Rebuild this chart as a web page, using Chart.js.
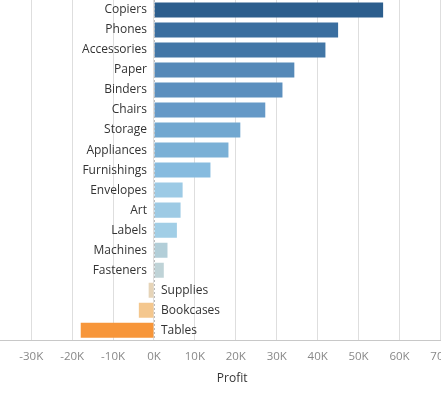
<!DOCTYPE html>
<html>
<head>
<meta charset="utf-8">
<script src="https://cdn.jsdelivr.net/npm/chart.js@4.4.1/dist/chart.umd.min.js"></script>
<style>
  html, body { margin: 0; padding: 0; background: #fff; overflow: hidden; }
  #wrap { position: absolute; left: 0; top: 0; width: 460px; height: 394px; }
</style>
</head>
<body>
<div id="wrap"><canvas id="chart"></canvas></div>
<script>
const categories = [
  "Copiers", "Phones", "Accessories", "Paper", "Binders", "Chairs", "Storage",
  "Appliances", "Furnishings", "Envelopes", "Art", "Labels", "Machines",
  "Fasteners", "Supplies", "Bookcases", "Tables"
]
const profit = [
  56000, 45000, 41900, 34300, 31400, 27200, 21100,
  18200, 13800, 7000, 6500, 5600, 3300,
  2400, -1300, -3700, -17900
]
const barColors = [
  "#2c5e8d", "#3a6e9f", "#4276a6", "#5589b8", "#5b8fbe", "#6599c7", "#71a7d0",
  "#7ab0d6", "#86bbdf", "#9ccae5", "#9dcae4", "#a1cee6", "#b2ced8",
  "#bfd3d7", "#e6d4b8", "#f4c78e", "#f7963a"
]
const xTicks = [-30000, -20000, -10000, 0, 10000, 20000, 30000, 40000, 50000, 60000, 70000]

const FONT = "'Open Sans', 'Noto Sans', sans-serif"

// labels sit beside the zero line, dashed zero line, axis title
const sideLabels = {
  id: "sideLabels",
  afterDatasetsDraw(chart) {
    const { ctx, chartArea, scales: { x, y } } = chart
    const x0 = x.getPixelForValue(0)
    ctx.save()
    ctx.strokeStyle = "#bbbbbb"
    ctx.setLineDash([2, 2])
    ctx.lineWidth = 1
    ctx.beginPath()
    ctx.moveTo(Math.round(x0) + 0.5, chartArea.top)
    ctx.lineTo(Math.round(x0) + 0.5, chartArea.bottom)
    ctx.stroke()
    ctx.setLineDash([])

    ctx.font = "12px " + FONT
    ctx.fillStyle = "#333333"
    ctx.textBaseline = "middle"
    categories.forEach((c, i) => {
      const yy = y.getPixelForValue(i)
      if (profit[i] >= 0) {
        ctx.textAlign = "right"
        ctx.fillText(c, x0 - 7, yy)
      } else {
        ctx.textAlign = "left"
        ctx.fillText(c, x0 + 7, yy)
      }
    })

    ctx.font = "12px " + FONT
    ctx.fillStyle = "#333333"
    ctx.textAlign = "center"
    ctx.fillText("Profit", (chartArea.left + chartArea.right) / 2 + 12, 379)
    ctx.restore()
  }
}

new Chart(document.getElementById("chart"), {
  type: "bar",
  data: {
    labels: categories,
    datasets: [{
      data: profit,
      backgroundColor: barColors,
      categoryPercentage: 1,
      barPercentage: 0.75
    }]
  },
  options: {
    indexAxis: "y",
    responsive: true,
    maintainAspectRatio: false,
    animation: false,
    layout: { padding: { left: 0, right: 19, top: 0, bottom: 21 } },
    plugins: {
      legend: { display: false },
      tooltip: { enabled: false }
    },
    scales: {
      y: { display: false },
      x: {
        min: -37630,
        max: 70000,
        afterBuildTicks: axis => { axis.ticks = xTicks.map(v => ({ value: v })) },
        grid: { color: "#dedede", lineWidth: 1, drawTicks: false },
        border: { color: "#c8c8c8" },
        ticks: {
          color: "#888888",
          padding: 9.5,
          maxRotation: 0,
          font: { family: FONT, size: 11.5 },
          callback: v => (v / 1000) + "K"
        }
      }
    }
  },
  plugins: [sideLabels]
})
</script>
</body>
</html>
